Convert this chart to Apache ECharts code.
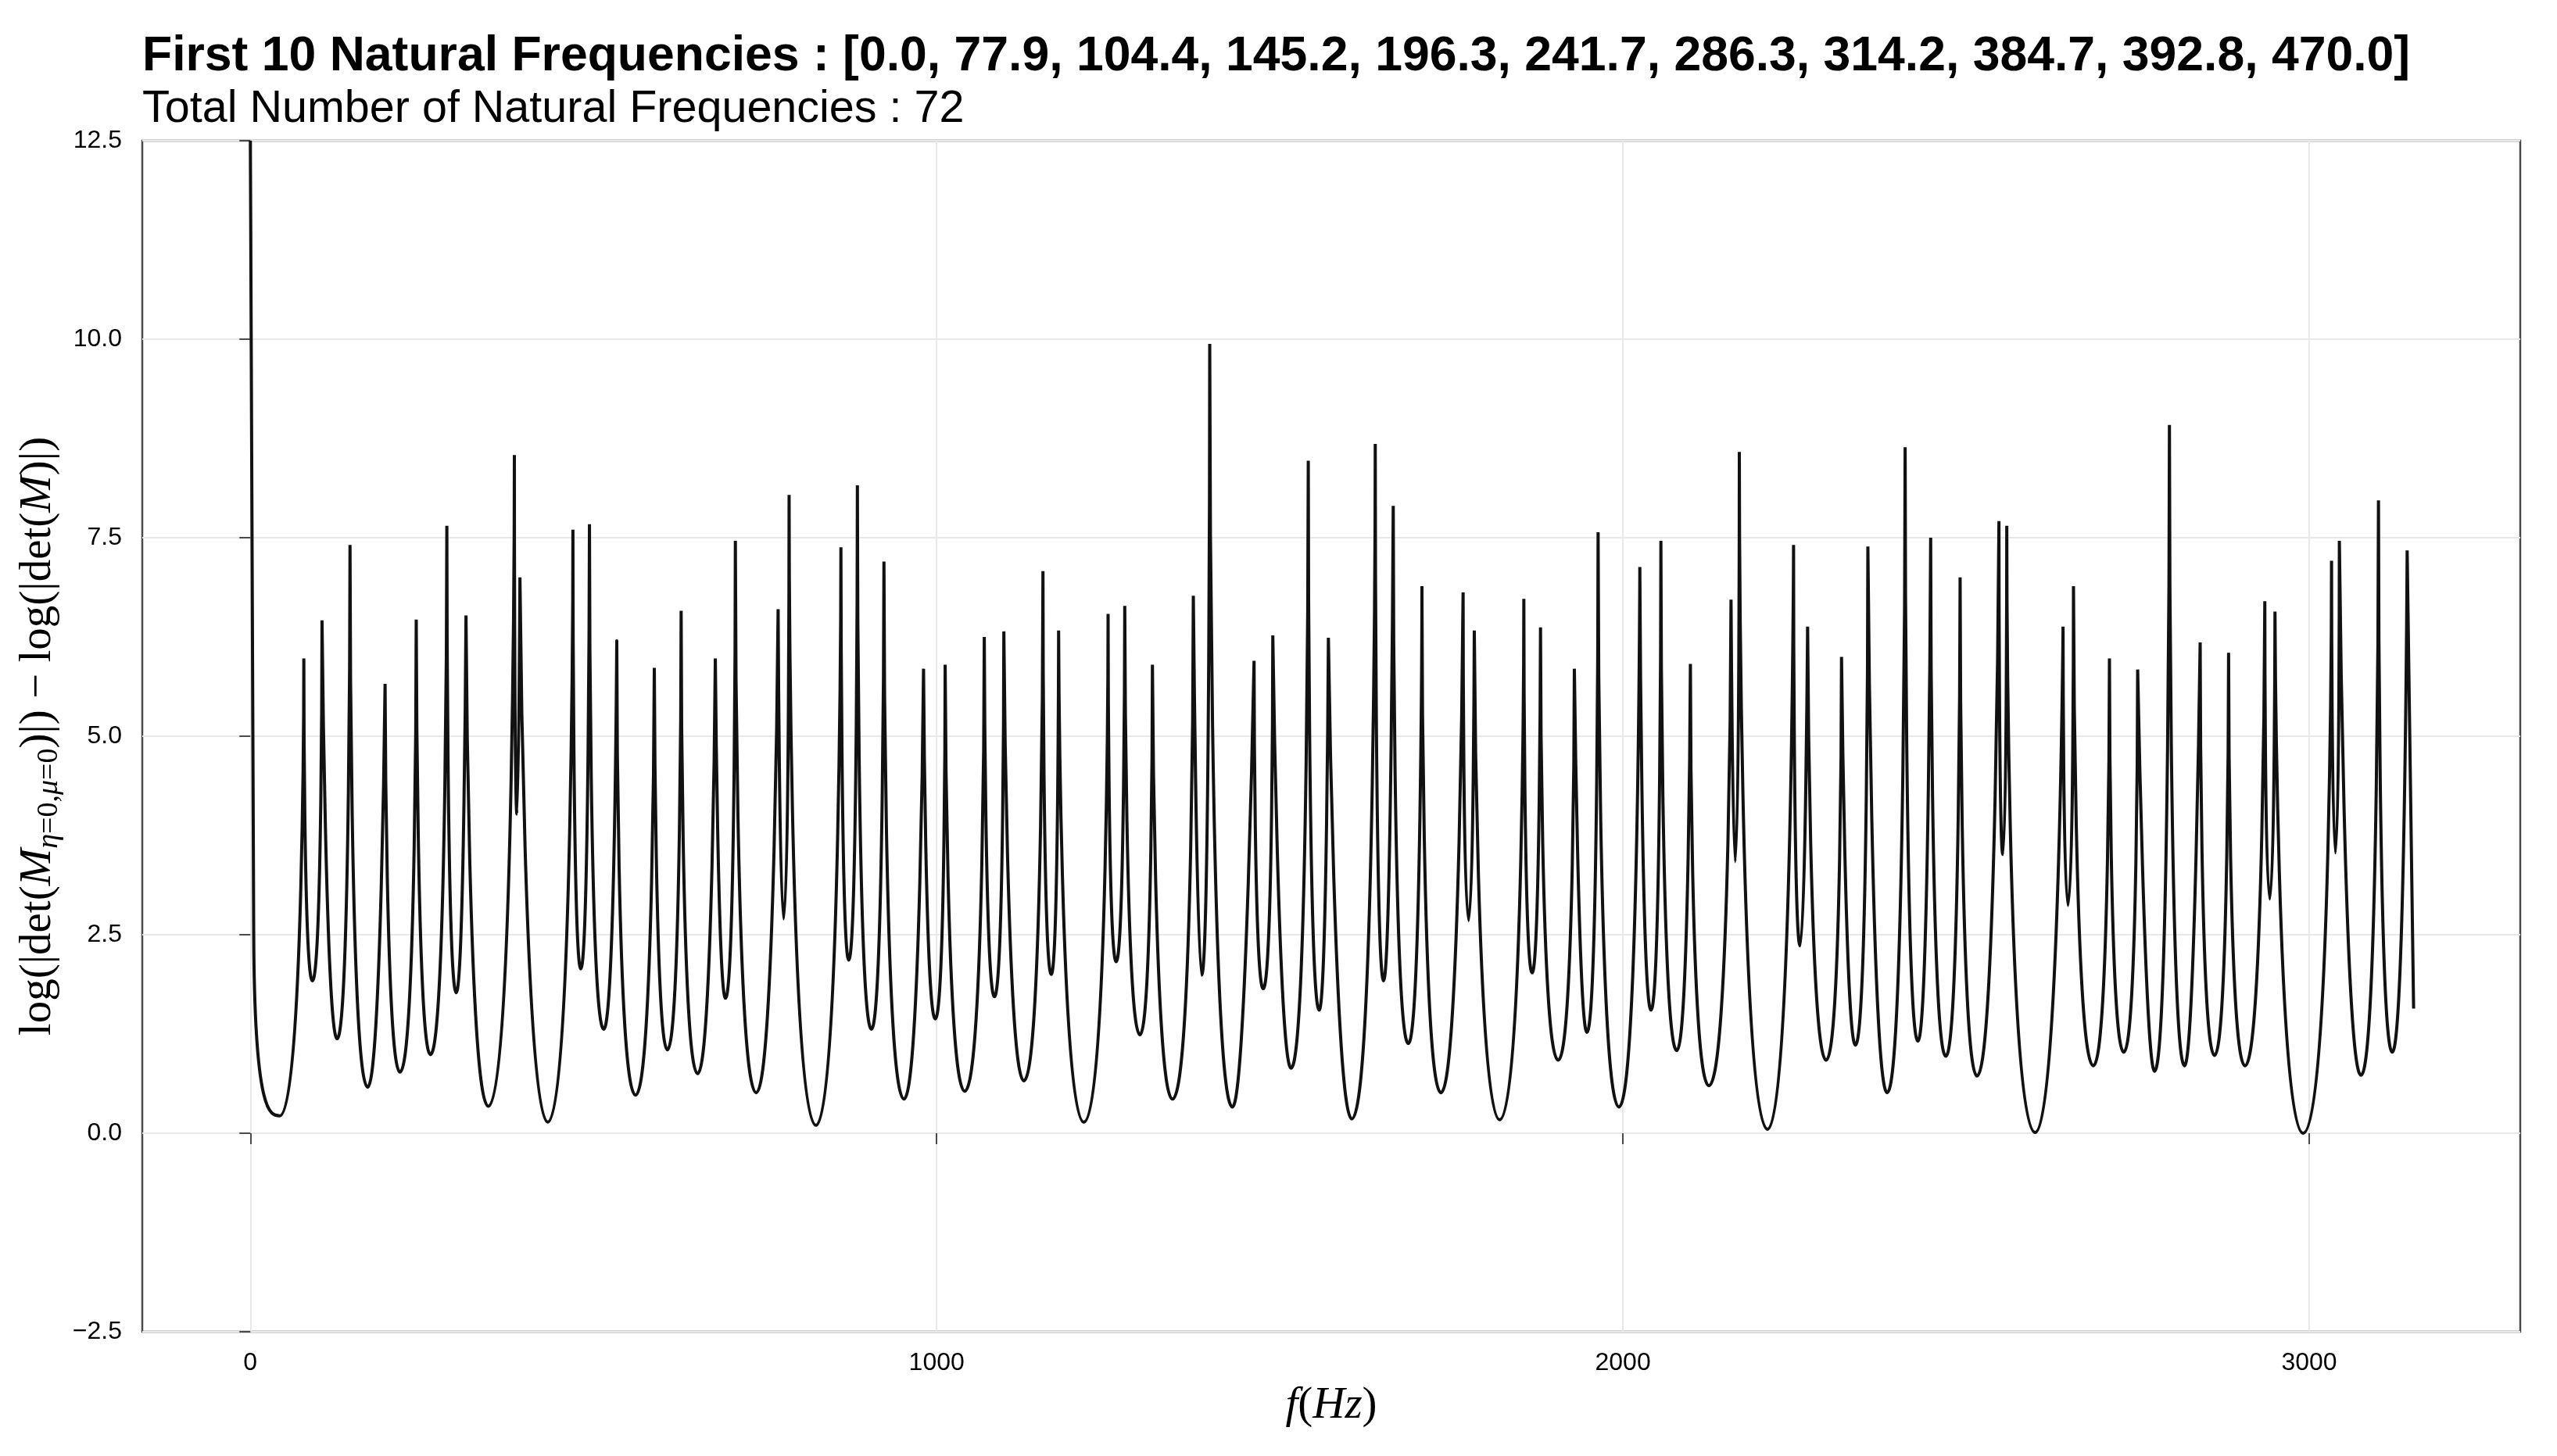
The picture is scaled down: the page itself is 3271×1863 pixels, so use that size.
<!DOCTYPE html>
<html><head><meta charset="utf-8">
<script src="https://cdn.jsdelivr.net/npm/echarts@6/dist/echarts.min.js"></script>
<style>html,body{margin:0;padding:0;background:#fff}#c{width:3271px;height:1863px}</style>
</head><body><div id="c"></div>
<script>
const titleText = 'First 10 Natural Frequencies : [0.0, 77.9, 104.4, 145.2, 196.3, 241.7, 286.3, 314.2, 384.7, 392.8, 470.0]';
const subtitleText = 'Total Number of Natural Frequencies : 72';
const xTicks = [0, 1000, 2000, 3000];
const yTicks = [-2.5, 0, 2.5, 5, 7.5, 10, 12.5];

const peakFreqs = [0.0, 77.9, 104.4, 145.2, 196.3, 241.7, 286.3, 314.2, 384.7, 392.8, 470.0, 494.1, 533.9, 588.6, 627.7, 677.5, 706.7, 769.0, 785.0, 860.5, 884.5, 923.2, 980.9, 1012.4, 1069.4, 1097.9, 1154.9, 1177.7, 1249.8, 1274.1, 1314.4, 1374.0, 1397.9, 1462.5, 1489.8, 1541.5, 1570.8, 1639.1, 1665.3, 1707.1, 1767.1, 1783.4, 1855.6, 1879.9, 1929.2, 1963.8, 2024.6, 2055.3, 2098.3, 2157.5, 2169.6, 2248.6, 2269.1, 2318.5, 2356.9, 2411.2, 2448.4, 2491.3, 2547.9, 2559.3, 2641.3, 2656.5, 2708.9, 2750.0, 2796.3, 2841.1, 2882.5, 2935.3, 2950.1, 3032.5, 3043.9, 3100.9, 3142.7];
const peakValues = [12.5, 5.98, 6.46, 7.41, 5.66, 6.47, 7.65, 6.52, 8.54, 7.0, 7.6, 7.67, 6.2, 5.86, 6.58, 5.98, 7.46, 6.6, 8.04, 7.38, 8.16, 7.2, 5.85, 5.9, 6.25, 6.32, 7.08, 6.33, 6.54, 6.64, 5.9, 6.77, 9.94, 5.95, 6.27, 8.47, 6.24, 8.68, 7.9, 6.89, 6.81, 6.33, 6.73, 6.37, 5.85, 7.57, 7.13, 7.46, 5.91, 6.72, 8.58, 7.41, 6.38, 6.0, 7.39, 8.64, 7.5, 7.0, 7.71, 7.65, 6.38, 6.89, 5.98, 5.84, 8.92, 6.18, 6.05, 6.7, 6.57, 7.21, 7.46, 7.97, 7.34];
const valleyFreqs = [42.9, 90.4, 126.4, 170.9, 218.0, 262.4, 300.0, 346.7, 388.5, 433.3, 481.5, 514.9, 561.3, 607.6, 651.7, 692.3, 737.1, 777.0, 824.1, 871.9, 905.0, 952.4, 998.0, 1040.9, 1084.2, 1127.1, 1167.0, 1214.5, 1261.6, 1296.2, 1343.6, 1386.2, 1431.0, 1475.8, 1516.4, 1557.4, 1604.9, 1651.2, 1687.3, 1734.8, 1775.1, 1820.3, 1867.7, 1905.7, 1947.5, 1994.2, 2040.9, 2078.5, 2125.2, 2163.6, 2210.7, 2258.1, 2296.1, 2338.7, 2385.0, 2429.8, 2470.5, 2516.0, 2553.6, 2600.7, 2648.5, 2685.4, 2729.8, 2774.6, 2818.3, 2862.0, 2906.4, 2942.5, 2991.1, 3038.2, 3075.4, 3121.0];
const valleyValues = [0.22, 1.92, 1.19, 0.58, 0.77, 0.99, 1.77, 0.34, 4.02, 0.14, 2.07, 1.31, 0.48, 1.05, 0.75, 1.70, 0.51, 2.70, 0.10, 2.18, 1.31, 0.43, 1.44, 0.53, 1.72, 0.66, 2.0, 0.14, 2.16, 1.24, 0.43, 1.99, 0.33, 1.82, 0.82, 1.55, 0.18, 1.92, 1.13, 0.51, 2.68, 0.17, 2.02, 0.92, 1.27, 0.33, 1.55, 1.04, 0.60, 3.42, 0.05, 2.36, 0.92, 1.11, 0.51, 1.16, 0.97, 0.72, 3.51, 0.01, 2.87, 0.85, 1.02, 0.78, 0.85, 0.98, 0.85, 2.95, 0.0, 3.53, 0.73, 1.02];
// knee of the first (f = 0) descent
const startKneeFreq = 4.9;
const startKneeValue = 2.5;
const tailFreq = 3152.1;
const tailValue = 1.57;

// Build the polyline: one smoothed piece per valley (peak -> valley -> peak), broken at each peak.
const lineData = [];
for (let i = 0; i < valleyFreqs.length; i++) {
  lineData.push([peakFreqs[i], peakValues[i]]);
  if (i === 0) lineData.push([startKneeFreq, startKneeValue]);
  lineData.push([valleyFreqs[i], valleyValues[i]]);
  lineData.push([peakFreqs[i + 1], peakValues[i + 1]]);
  lineData.push([peakFreqs[i + 1], '-']);
}
lineData.push([peakFreqs[peakFreqs.length - 1], peakValues[peakValues.length - 1]]);
lineData.push([tailFreq, tailValue]);

const sansFont = 'Liberation Sans';
const mathFont = 'Liberation Serif';
const mathSize = 57;
const subSize = 38;
const mathRich = {
  r: {fontFamily: mathFont, fontSize: mathSize, color: '#000', lineHeight: 66},
  i: {fontFamily: mathFont, fontSize: mathSize, fontStyle: 'italic', color: '#000', lineHeight: 66},
  s: {fontFamily: mathFont, fontSize: subSize, fontStyle: 'italic', color: '#000', lineHeight: 40, verticalAlign: 'bottom'},
  sr: {fontFamily: mathFont, fontSize: subSize, color: '#000', lineHeight: 40, verticalAlign: 'bottom'}
};

const chart = echarts.init(document.getElementById('c'), null, {renderer: 'canvas', width: 3271, height: 1863});
chart.setOption({
  animation: false,
  backgroundColor: '#ffffff',
  grid: {left: 182, right: 47, top: 180, bottom: 159, show: true, borderColor: '#4a4a4a', borderWidth: 2.5,
         backgroundColor: 'rgba(0,0,0,0)', containLabel: false, outerBoundsMode: 'none'},
  graphic: [
    {type: 'text', x: 182, y: 73, silent: true,
     style: {text: titleText, font: 'bold 62.5px "Liberation Sans"', fill: '#000', textAlign: 'left', textVerticalAlign: 'middle', verticalAlign: 'middle'}},
    {type: 'text', x: 182, y: 140, silent: true,
     style: {text: subtitleText, font: '57.5px "Liberation Sans"', fill: '#000', textAlign: 'left', textVerticalAlign: 'middle', verticalAlign: 'middle'}}
  ],
  xAxis: {
    type: 'value', min: -157.5, max: 3307.5, splitNumber: 4,
    axisLine: {show: false},
    axisTick: {show: true, length: 14, customValues: xTicks, lineStyle: {color: '#4a4a4a', width: 2}},
    axisLabel: {customValues: xTicks, margin: 24, fontSize: 32, fontFamily: sansFont, color: '#000',
                formatter: v => (xTicks.indexOf(v) >= 0 ? String(v) : '')},
    splitLine: {show: true, lineStyle: {color: '#e8e8e8', width: 2}},
    name: '{i|f}{r|(}{i|Hz}{r|)}', nameLocation: 'middle', nameGap: 62,
    nameTextStyle: {rich: mathRich}
  },
  yAxis: {
    type: 'value', min: yTicks[0], max: yTicks[yTicks.length - 1], interval: 2.5,
    axisLine: {show: false},
    axisTick: {show: true, length: 14, lineStyle: {color: '#4a4a4a', width: 2}},
    axisLabel: {margin: 26, fontSize: 32, fontFamily: sansFont, color: '#000',
                formatter: v => (v < 0 ? '\u2212' : '') + Math.abs(v).toFixed(1)},
    splitLine: {show: true, lineStyle: {color: '#e8e8e8', width: 2}},
    name: '{r|log(|det(}{i|M}{s|η}{sr|=0,}{s|μ}{sr|=0}{r|)|) − log(|det(}{i|M}{r|)|)}',
    nameLocation: 'middle', nameRotate: 90, nameGap: 100,
    nameTextStyle: {rich: mathRich}
  },
  series: [{
    type: 'line', data: lineData, showSymbol: false, smooth: 1, clip: true, silent: true,
    connectNulls: false,
    lineStyle: {color: '#111', width: 4, cap: 'butt', join: 'bevel'}
  }]
});
</script>
</body></html>
